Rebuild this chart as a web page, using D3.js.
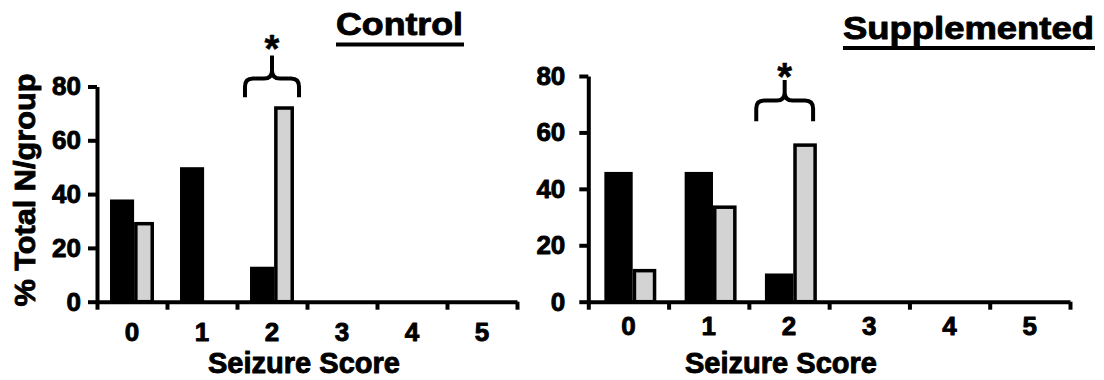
<!DOCTYPE html>
<html>
<head>
<meta charset="utf-8">
<script src="https://cdn.jsdelivr.net/npm/d3@7"></script>
<style>
  html, body { margin: 0; padding: 0; background: #fff; }
  svg { display: block; font-family: "Liberation Sans", Arial, sans-serif; font-weight: bold; }
  svg text { stroke: #000; stroke-width: 0.9px; stroke-linejoin: round; }
</style>
</head>
<body>
<svg id="chart" width="1104" height="380"></svg>
<script>
// seizure score categories and tick values
const scores = ['0', '1', '2', '3', '4', '5'];
const yTicks = [0, 20, 40, 60, 80];

// % of total N per group, black and grey bars
const controlBlack = [38, 50, 13, 0, 0, 0];
const controlGrey = [29, 0, 72, 0, 0, 0];
const supplementedBlack = [46, 46, 10, 0, 0, 0];
const supplementedGrey = [11, 33.5, 55.5, 0, 0, 0];

const svg = d3.select('#chart');

const charts = [
  {
    title: 'Control', black: controlBlack, grey: controlGrey,
    left: 97, right: 517, top: 86.5, bottom: 301.7,
    blackFrac: [0.186, 0.53], greyFrac: [0.53, 0.814],
    labelPad: 7, xLabelPad: 20.5,
    title_: { x: 336, y: 35, len: 127, line: 44.5 },
    xTitle: { x: 304, y: 373, len: 192 },
    brace: { x0: 2.114, x1: 2.886, arm: 76, bar: 83, peak: 91.5, star: 97 },
    yTitle: true
  },
  {
    title: 'Supplemented', black: supplementedBlack, grey: supplementedGrey,
    left: 588.3, right: 1070, top: 76, bottom: 301.7,
    blackFrac: [0.2, 0.553], greyFrac: [0.553, 0.847],
    labelPad: 14, xLabelPad: 15,
    title_: { x: 843, y: 39, len: 251, line: 48 },
    xTitle: { x: 781, y: 373, len: 192 },
    brace: { x0: 2.092, x1: 2.8, arm: 64, bar: 71.3, peak: 78.6, star: 82.8 },
    yTitle: false
  }
];

charts.forEach(c => drawChart(c));

function drawChart(c) {
  const g = svg.append('g');

  const x = d3.scaleBand().domain(scores).range([c.left, c.right]).padding(0);
  const xEdge = d3.scaleLinear().domain([0, scores.length]).range([c.left, c.right]);
  const y = d3.scaleLinear().domain([0, 80]).range([c.bottom, c.top]);
  const bw = x.bandwidth();

  // black bars
  g.selectAll('.black')
    .data(c.black)
    .enter()
    .append('rect')
    .attr('x', (d, i) => x(scores[i]) + c.blackFrac[0] * bw)
    .attr('y', d => y(d))
    .attr('width', (c.blackFrac[1] - c.blackFrac[0]) * bw)
    .attr('height', d => y(0) - y(d))
    .attr('fill', '#000');

  // grey bars with black outline
  g.selectAll('.grey')
    .data(c.grey)
    .enter()
    .append('rect')
    .attr('x', (d, i) => x(scores[i]) + c.greyFrac[0] * bw + 1.75)
    .attr('y', d => y(d))
    .attr('width', (c.greyFrac[1] - c.greyFrac[0]) * bw - 3.5)
    .attr('height', d => y(0) - y(d))
    .attr('fill', '#d3d3d3')
    .attr('stroke', '#000')
    .attr('stroke-width', 3.5);

  // y axis
  const yAxis = g.append('g')
    .attr('transform', `translate(${c.left},0)`)
    .call(d3.axisLeft(y).tickValues(yTicks).tickSize(9).tickSizeOuter(0).tickPadding(c.labelPad));

  // x axis ticks at the category edges
  const xAxis = g.append('g')
    .attr('transform', `translate(0,${c.bottom})`)
    .call(d3.axisBottom(xEdge).tickValues(d3.range(scores.length + 1)).tickSize(8).tickSizeOuter(0).tickFormat(''));

  // x labels at the category centres
  const xLabels = g.append('g')
    .attr('transform', `translate(0,${c.bottom})`)
    .call(d3.axisBottom(x).tickSize(0).tickPadding(c.xLabelPad));
  xLabels.select('.domain').remove();

  [yAxis, xAxis].forEach(a => {
    a.select('.domain').attr('stroke', '#000').attr('stroke-width', 4);
    a.selectAll('.tick line').attr('stroke', '#000').attr('stroke-width', 4);
  });
  [yAxis, xLabels].forEach(a => {
    a.attr('font-family', null).attr('font-size', null);
    a.selectAll('.tick text')
      .attr('fill', '#000')
      .style('font-size', '26px');
  });

  // title, underlined
  g.append('text')
    .attr('x', c.title_.x)
    .attr('y', c.title_.y)
    .attr('textLength', c.title_.len)
    .attr('lengthAdjust', 'spacingAndGlyphs')
    .style('font-size', '32px')
    .text(c.title);
  g.append('line')
    .attr('x1', c.title_.x)
    .attr('x2', c.title_.x + c.title_.len + 1)
    .attr('y1', c.title_.line)
    .attr('y2', c.title_.line)
    .attr('stroke', '#000')
    .attr('stroke-width', 4);

  // x axis title
  g.append('text')
    .attr('x', c.xTitle.x)
    .attr('y', c.xTitle.y)
    .attr('text-anchor', 'middle')
    .attr('textLength', c.xTitle.len)
    .attr('lengthAdjust', 'spacingAndGlyphs')
    .style('font-size', '29px')
    .text('Seizure Score');

  if (c.yTitle) {
    g.append('text')
      .attr('transform', 'translate(35,190) rotate(-90)')
      .attr('text-anchor', 'middle')
      .attr('textLength', 233)
      .attr('lengthAdjust', 'spacingAndGlyphs')
      .style('font-size', '30px')
      .text('% Total N/group');
  }

  // significance brace over score 2
  const b = c.brace;
  const bx0 = xEdge(b.x0), bx1 = xEdge(b.x1), bxm = (bx0 + bx1) / 2;
  const ya = y(b.arm), yb = y(b.bar), yp = y(b.peak);
  const r = 8;
  const path = d3.path();
  path.moveTo(bx0, ya);
  path.lineTo(bx0, yb + r);
  path.quadraticCurveTo(bx0, yb, bx0 + r, yb);
  path.lineTo(bxm - r, yb);
  path.quadraticCurveTo(bxm, yb, bxm, yb - r);
  path.lineTo(bxm, yp);
  path.moveTo(bxm, yb - r);
  path.quadraticCurveTo(bxm, yb, bxm + r, yb);
  path.lineTo(bx1 - r, yb);
  path.quadraticCurveTo(bx1, yb, bx1, yb + r);
  path.lineTo(bx1, ya);
  g.append('path')
    .attr('d', path.toString())
    .attr('fill', 'none')
    .attr('stroke', '#000')
    .attr('stroke-width', 4);

  g.append('text')
    .attr('x', bxm)
    .attr('y', y(b.star) + 0.57 * 38)
    .attr('text-anchor', 'middle')
    .style('font-size', '38px')
    .style('stroke-width', '0.5px')
    .text('*');
}
</script>
</body>
</html>
